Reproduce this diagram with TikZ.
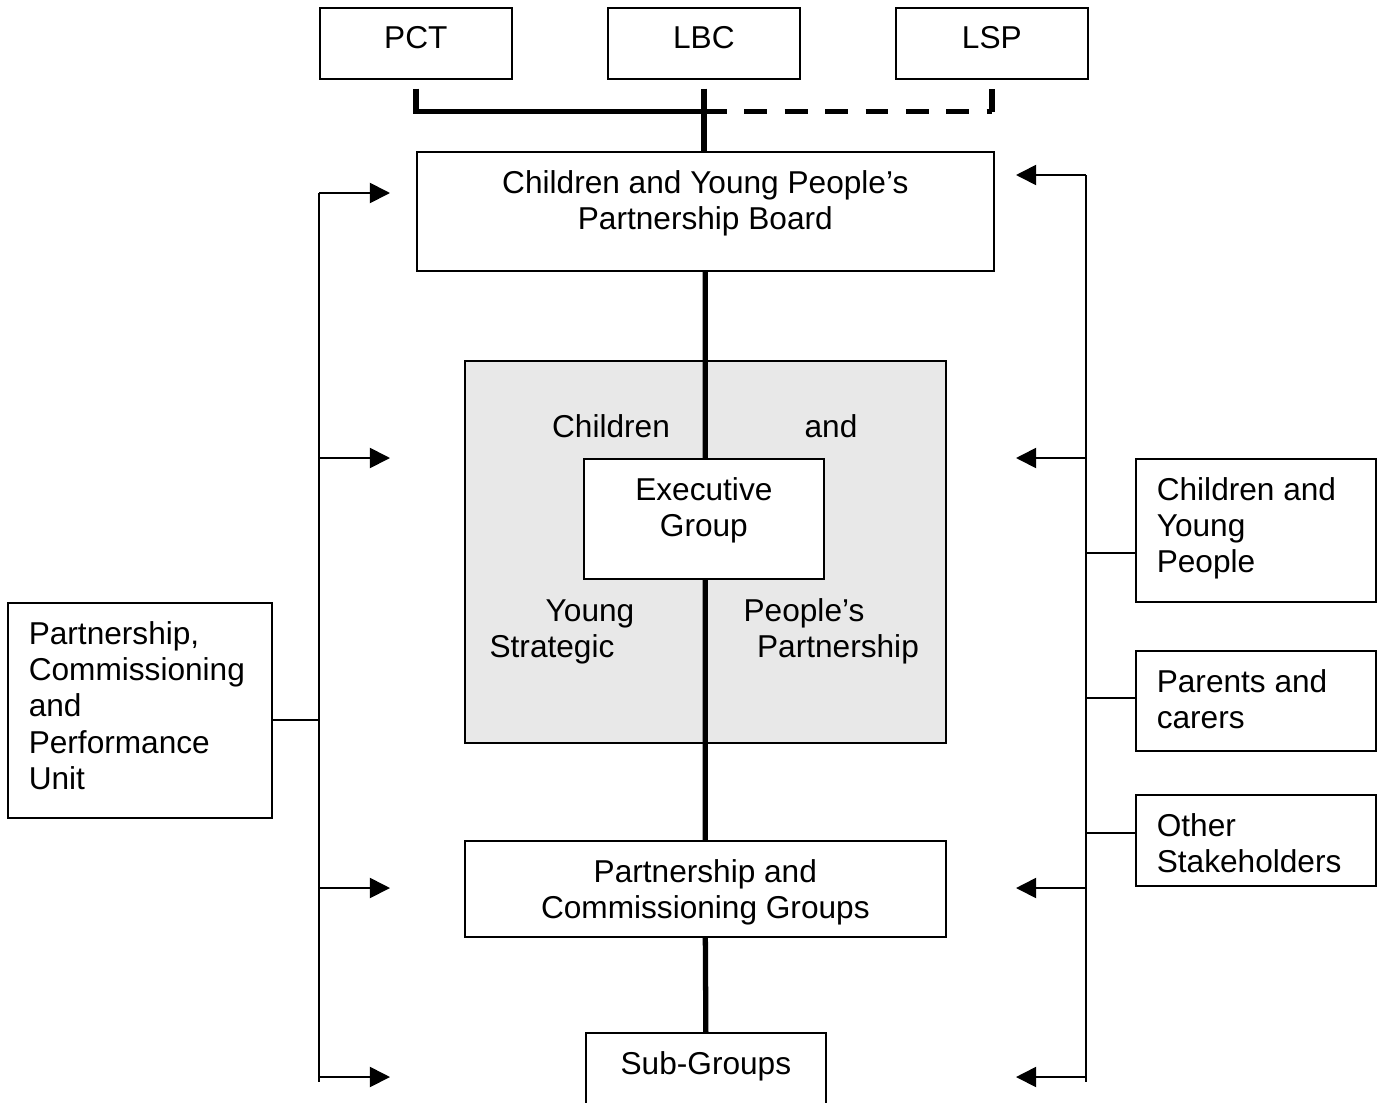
\documentclass[tikz,border=0pt]{standalone}
\usepackage{fontspec}
\setmainfont{Liberation Sans}
\usetikzlibrary{arrows.meta,calc}
\definecolor{panelgray}{HTML}{E8E8E8}
\tikzset{
  box/.style n args={3}{draw, line width=1pt, fill=white, anchor=north west, inner sep=0pt,
    execute at begin node={\begin{minipage}[c][#2][t]{#1}#3\vspace*{10.5pt}},
    execute at end node={\end{minipage}}},
  cbox/.style 2 args={box={#1}{#2}{\centering}},
  lbox/.style 2 args={box={#1}{#2}{\raggedright\leftskip=11.9pt}},
  panel/.style={draw, line width=1pt, fill=panelgray, anchor=north west, inner sep=0pt,
    minimum width=9.62cm, minimum height=7.64cm},
  word/.style={anchor=base, inner sep=0pt},
  spine/.style={line width=3pt},
  link/.style={line width=1pt},
  feed/.style={link, -{Triangle[length=11.5pt,width=11.5pt]}}
}
\begin{document}
\begin{tikzpicture}[x=0.02cm, y=-0.02cm, font=\fontsize{18}{20.7}\selectfont]
    \useasboundingbox (0,0) rectangle (1378,1102);

    \node[cbox={3.84cm}{1.42cm}] (pct) at (319,7) {PCT};
    \node[cbox={3.84cm}{1.42cm}] (lbc) at (607,7) {LBC};
    \node[cbox={3.84cm}{1.42cm}] (lsp) at (895,7) {LSP};

    \node[cbox={11.54cm}{2.38cm}] (board) at (416,151) {Children and Young People’s\par Partnership Board};

    \node[panel] (panel) at (464,360) {};
    \node[word] (w1) at (611,437) {Children};
    \node[word] (w2) at (831,437) {and};
    \node[word] (w3) at (590,621) {Young};
    \node[word] (w4) at (552,657) {Strategic};
    \node[word] (w5) at (804,621) {People’s};
    \node[word] (w6) at (838,657) {Partnership};

    \node[cbox={9.62cm}{1.92cm}] (pcg) at (464,840) {Partnership and\par Commissioning Groups};
    \node[cbox={4.8cm}{2.4cm}] (sub) at (585,1032) {Sub-Groups};

    \node[lbox={5.28cm}{4.3cm}] (ppu) at (7,602) {Partnership,\par Commissioning\par and\par Performance\par Unit};
    \node[lbox={4.8cm}{2.86cm}] (cyp) at (1135,458) {Children and\par Young\par People};
    \node[lbox={4.8cm}{2cm}] (parents) at (1135,650) {Parents and\par carers};
    \node[lbox={4.8cm}{1.82cm}] (other) at (1135,794) {Other\par Stakeholders};

    % top links
    \coordinate (pcttap) at ($(pct.south)+(0,9)$);
    \coordinate (lbctap) at ($(lbc.south)+(0,9)$);
    \coordinate (lsptap) at ($(lsp.south)+(0,9)$);
    \coordinate (pctjoin) at ($(pct.south)+(0,32)$);
    \coordinate (lspjoin) at ($(lsp.south)+(0,32)$);
    \draw[spine] (pcttap) -- (pctjoin) -- (lbctap |- pctjoin);
    \draw[spine, dash pattern=on 13pt off 10pt] (lbctap |- pctjoin) -- (lspjoin);
    \draw[spine] (lspjoin) -- (lsptap);
    \draw[spine] (lbctap) -- (lbctap |- board.north);

    \draw[spine] (board.south) -- (pcg.north);
    \draw[spine] (pcg.south) -- (sub.north);

    \node[cbox={4.8cm}{2.4cm}] (exec) at (583,458) {Executive\par Group};

    % side buses
    \foreach \y [count=\i] in {193,458,888,1077} {
      \coordinate (lbus\i) at (319,\y);
      \coordinate (lin\i) at (390,\y);
      \draw[feed] (lbus\i) -- (lin\i);
    }
    \coordinate (lbusend) at (319,1082);
    \draw[link] (lbus1) -- (lbusend);

    \foreach \y [count=\i] in {175,458,888,1077} {
      \coordinate (rbus\i) at (1086,\y);
      \coordinate (rin\i) at (1016,\y);
      \draw[feed] (rbus\i) -- (rin\i);
    }
    \coordinate (rbusend) at (1086,1082);
    \draw[link] (rbus1) -- (rbusend);

    \coordinate (ljoin) at (319,720);
    \draw[link] (ppu.east |- ljoin) -- (ljoin);
    \foreach \name/\y in {cyp/553, parents/698, other/833} {
      \coordinate (rj-\name) at (1086,\y);
      \draw[link] (rj-\name) -- (rj-\name -| \name.west);
    }
  \end{tikzpicture}
\end{document}
